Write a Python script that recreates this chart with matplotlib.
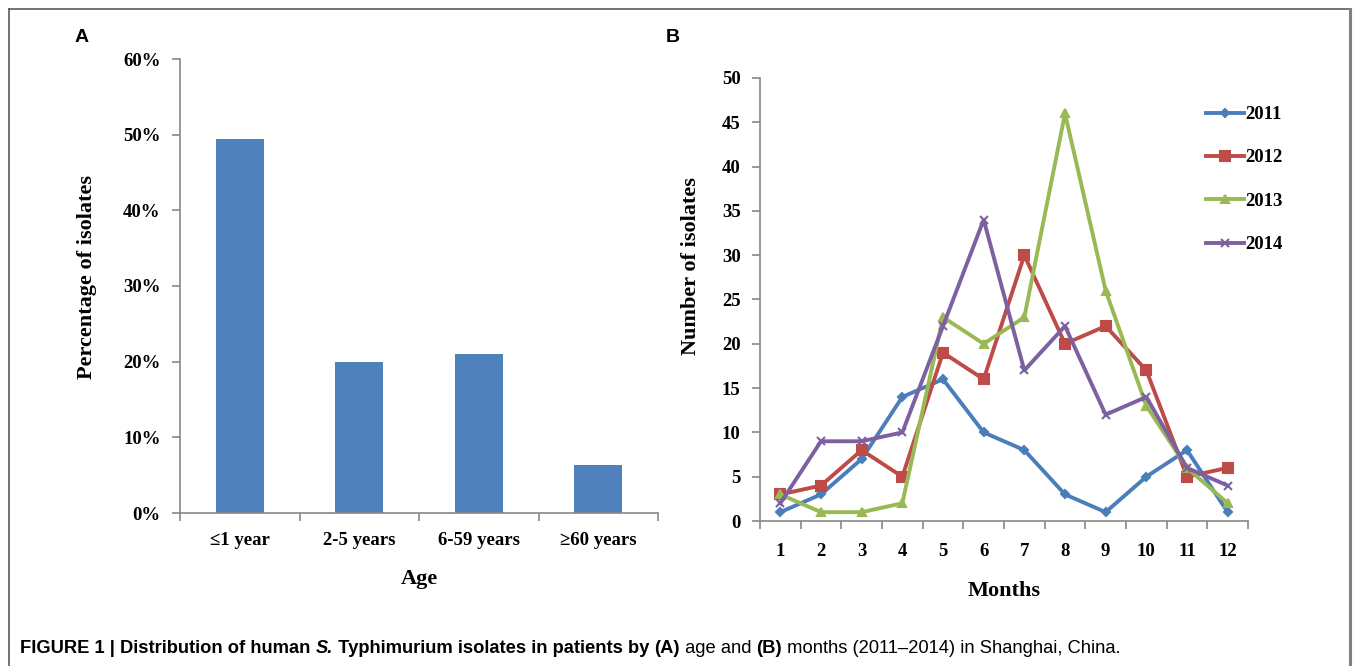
import matplotlib
matplotlib.use("Agg")
import matplotlib.pyplot as plt
from matplotlib.lines import Line2D
from matplotlib.ticker import FixedLocator, PercentFormatter

# Panel A: age distribution
age_groups = ["\u22641 year", "2-5 years", "6-59 years", "\u226560 years"]
age_percent = [49.4, 20.0, 21.0, 6.4]

# Panel B: isolates per month
months = list(range(1, 13))
isolates = {
    "2011": [1, 3, 7, 14, 16, 10, 8, 3, 1, 5, 8, 1],
    "2012": [3, 4, 8, 5, 19, 16, 30, 20, 22, 17, 5, 6],
    "2013": [3, 1, 1, 2, 23, 20, 23, 46, 26, 13, 6, 2],
    "2014": [2, 9, 9, 10, 22, 34, 17, 22, 12, 14, 6, 4],
}
colors = {"2011": "#4A7EBB", "2012": "#BE4B48", "2013": "#98B954", "2014": "#7D60A0"}
markers = {"2011": "D", "2012": "s", "2013": "^", "2014": "x"}
msizes = {"2011": 4, "2012": 7, "2013": 6, "2014": 6}

SERIF = ["Liberation Serif", "DejaVu Serif"]
SANS = ["Liberation Sans", "DejaVu Sans"]
AXCOL = "#878787"

W, H = 1357, 666
fig = plt.figure(figsize=(W / 100, H / 100), dpi=100)


def style_axes(ax, xpad):
    for s in ("top", "right"):
        ax.spines[s].set_visible(False)
    for s in ("left", "bottom"):
        ax.spines[s].set_color(AXCOL)
        ax.spines[s].set_linewidth(1.2)
    ax.tick_params(axis="y", which="major", direction="out", length=6,
                   width=1.2, color=AXCOL, pad=8)
    ax.tick_params(axis="x", which="major", length=0, pad=xpad)
    ax.tick_params(axis="x", which="minor", direction="out", length=6,
                   width=1.2, color=AXCOL)
    for lab in ax.get_xticklabels() + ax.get_yticklabels():
        lab.set_family(SERIF)
        lab.set_fontweight("bold")
        lab.set_fontsize(13.5)


# ---- Panel A ----
axA = fig.add_axes([180 / W, 1 - 513 / H, 478 / W, 454 / H])
xa = list(range(len(age_groups)))
axA.bar(xa, age_percent, width=0.4, color="#4F81BD", edgecolor="none")
axA.set_xlim(-0.5, len(age_groups) - 0.5)
axA.set_ylim(0, 60)
axA.set_yticks(range(0, 61, 10))
axA.yaxis.set_major_formatter(PercentFormatter(decimals=0))
axA.set_xticks(xa)
axA.set_xticklabels(age_groups)
axA.xaxis.set_minor_locator(FixedLocator([i - 0.5 for i in range(len(age_groups) + 1)]))
style_axes(axA, 14)
axA.set_xlabel("Age", family=SERIF, fontweight="bold", fontsize=16)
axA.xaxis.set_label_coords(0.5, -(579 - 513) / 454)
axA.xaxis.label.set_va("center")
axA.set_ylabel("Percentage of isolates", family=SERIF, fontweight="bold", fontsize=16)
axA.yaxis.set_label_coords(-(180 - 87) / 478, (513 - 277) / 454)
axA.yaxis.label.set_va("center")

# ---- Panel B ----
axB = fig.add_axes([760 / W, 1 - 521 / H, 488 / W, 443 / H])
for year, vals in isolates.items():
    axB.plot(months, vals, color=colors[year], lw=2.8, marker=markers[year],
             ms=msizes[year], mew=1.5, label=year)
axB.set_xlim(0.5, 12.5)
axB.set_ylim(0, 50)
axB.set_yticks(range(0, 51, 5))
axB.set_xticks(months)
axB.xaxis.set_minor_locator(FixedLocator([m + 0.5 for m in range(0, 13)]))
style_axes(axB, 16)
axB.set_xlabel("Months", family=SERIF, fontweight="bold", fontsize=16)
axB.xaxis.set_label_coords(0.5, -(591 - 521) / 443)
axB.xaxis.label.set_va("center")
axB.set_ylabel("Number of isolates", family=SERIF, fontweight="bold", fontsize=16)
axB.yaxis.set_label_coords(-(760 - 691) / 488, (521 - 266) / 443)
axB.yaxis.label.set_va("center")
leg = axB.legend(loc="upper left", bbox_to_anchor=(1206 / W, 1 - 106 / H),
                 bbox_transform=fig.transFigure, frameon=False, handlelength=2.0,
                 handletextpad=0.1, labelspacing=1.4, borderpad=0,
                 borderaxespad=0,
                 prop={"family": SERIF, "weight": "bold", "size": 13.5})

# panel letters
fig.text(75 / W, 1 - 38 / H, "A", family=SANS, fontweight="bold", fontsize=14,
         ha="left", va="center")
fig.text(666 / W, 1 - 38 / H, "B", family=SANS, fontweight="bold", fontsize=14,
         ha="left", va="center")

# frame around the figure
frame_kw = dict(transform=fig.transFigure, color="#5a5a5a", lw=1.2)
fig.add_artist(Line2D([8.5 / W, 8.5 / W], [0, 1 - 8.5 / H], **frame_kw))
fig.add_artist(Line2D([8.5 / W, 1350 / W], [1 - 8.5 / H, 1 - 8.5 / H], **frame_kw))
fig.add_artist(Line2D([1350 / W, 1350 / W], [0, 1 - 8.5 / H],
                      transform=fig.transFigure, color="#808080", lw=2.2))

# caption, built from pieces of different weight
pieces = [
    ("FIGURE 1 | Distribution of human ", "bold", "normal"),
    ("S.", "bold", "italic"),
    (" Typhimurium isolates in patients by ", "bold", "normal"),
    ("(A)", "bold", "normal"),
    (" age and ", "normal", "normal"),
    ("(B)", "bold", "normal"),
    (" months (2011\u20132014) in Shanghai, China.", "normal", "normal"),
]
cap_y = 1 - 653 / H
caption = [fig.text(0, cap_y, txt, family=SANS, fontweight=wt, fontstyle=st,
                    fontsize=13.2, ha="left", va="baseline")
           for txt, wt, st in pieces]

# place caption pieces one after another once widths are known
fig.canvas.draw()
r = fig.canvas.get_renderer()
x = 20
for t in caption:
    t.set_position((x / W, cap_y))
    x += t.get_window_extent(renderer=r).width

fig.savefig("out.png", dpi=100)
